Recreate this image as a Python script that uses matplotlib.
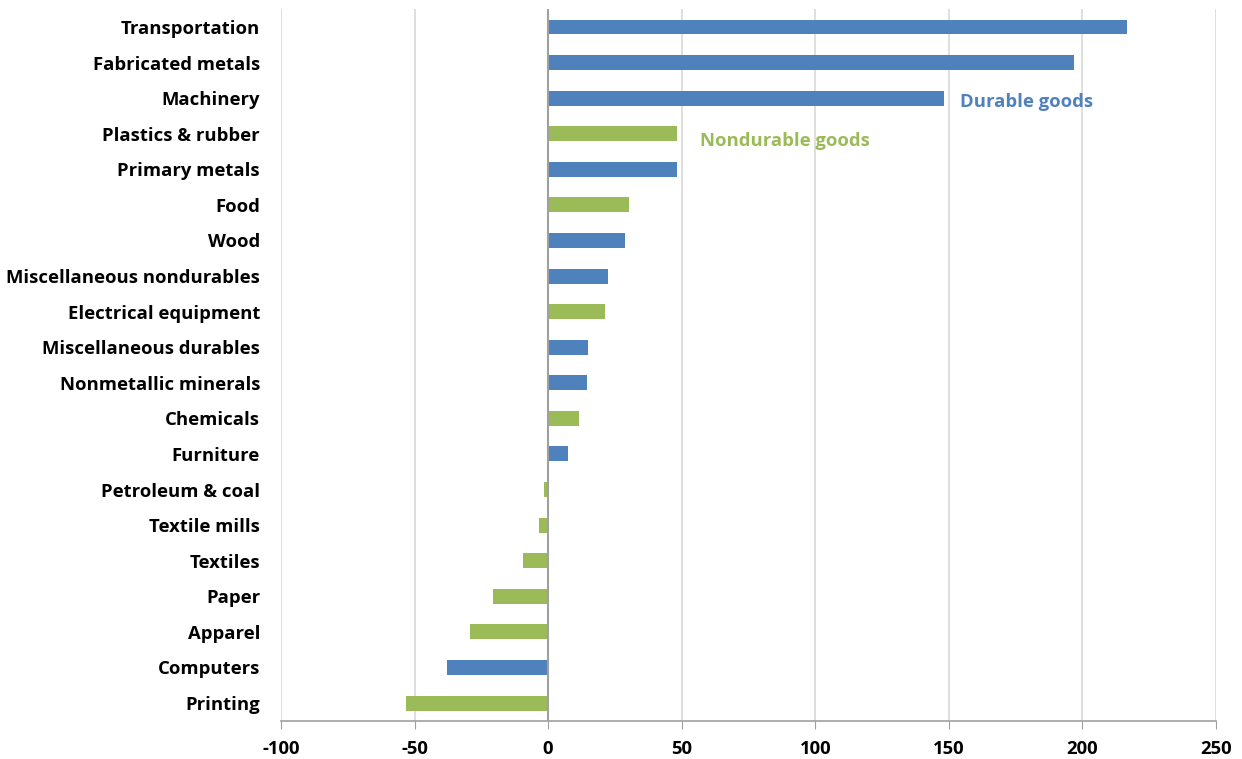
import matplotlib
matplotlib.use("Agg")
import matplotlib.pyplot as plt

categories = ["Transportation", "Fabricated metals", "Machinery", "Plastics & rubber",
              "Primary metals", "Food", "Wood", "Miscellaneous nondurables",
              "Electrical equipment", "Miscellaneous durables", "Nonmetallic minerals",
              "Chemicals", "Furniture", "Petroleum & coal", "Textile mills", "Textiles",
              "Paper", "Apparel", "Computers", "Printing"]
values = [216.7, 196.9, 148.2, 48.3, 48.3, 30.3, 28.8, 22.5, 21.3, 15.0, 14.6,
          11.6, 7.5, -1.5, -3.4, -9.4, -20.6, -29.2, -37.8, -53.1]
groups = ["D", "D", "D", "N", "D", "N", "D", "D", "N", "D", "D",
          "N", "D", "N", "N", "N", "N", "N", "D", "N"]
xticks = [-100, -50, 0, 50, 100, 150, 200, 250]

BLUE = "#4F81BD"
GREEN = "#9BBB59"
plt.rcParams['font.family'] = ['Open Sans', 'DejaVu Sans']

fig = plt.figure(figsize=(12.42, 7.59), dpi=100)
ax = fig.add_axes([0.2262, 0.0503, 0.9791 - 0.2262, 0.9879 - 0.0503])

y = list(range(len(categories)))
colors = [BLUE if g == "D" else GREEN for g in groups]
ax.barh(y, values, height=0.42, color=colors, zorder=3)
ax.set_ylim(len(categories) - 0.5, -0.5)
ax.set_xlim(-100, 250)
ax.set_xticks(xticks)
ax.set_xticklabels([str(t) for t in xticks], fontsize=13.3, fontweight='bold')
ax.set_yticks(y)
ax.set_yticklabels(categories, fontsize=13.3, fontweight='bold')
ax.tick_params(axis='y', length=0, pad=15)
ax.tick_params(axis='x', length=6, color='#A0A0A0', direction='out', pad=8)
ax.grid(axis='x', color='#D9D9D9', linewidth=1.2, zorder=0)
for s in ['top', 'right', 'left']:
    ax.spines[s].set_visible(False)
ax.spines['bottom'].set_color('#A0A0A0')
ax.spines['bottom'].set_linewidth(1.2)
ax.axvline(0, color='#A0A0A0', linewidth=1.5, zorder=4)

ax.text(154, 2.1, "Durable goods", color=BLUE, fontsize=13.3, fontweight='bold', va='center')
ax.text(57, 3.2, "Nondurable goods", color=GREEN, fontsize=13.3, fontweight='bold', va='center')

fig.savefig("out.png", dpi=100)
